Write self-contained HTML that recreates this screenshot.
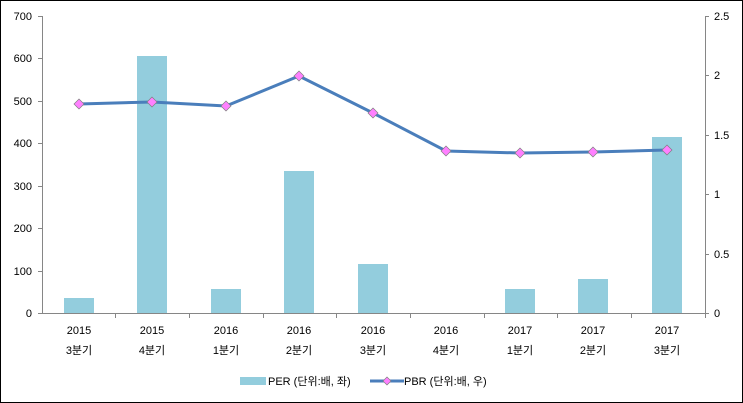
<!DOCTYPE html>
<html><head><meta charset="utf-8"><style>
html,body{margin:0;padding:0;background:#fff}
svg{display:block}
text{font-family:"Liberation Sans","Noto Sans CJK KR",sans-serif;font-size:11px;fill:#000}
</style></head><body>
<svg width="743" height="403" viewBox="0 0 743 403">
<rect x="0.5" y="0.5" width="742" height="402" fill="#fff" stroke="#000"/>
<g stroke="#868686" stroke-width="1">
<line x1="42.5" y1="16" x2="42.5" y2="313"/>
<line x1="705.5" y1="16" x2="705.5" y2="313"/>
<line x1="42" y1="313.5" x2="705" y2="313.5"/>
<line x1="38" y1="16.5" x2="42" y2="16.5"/><line x1="38" y1="58.5" x2="42" y2="58.5"/><line x1="38" y1="101.5" x2="42" y2="101.5"/><line x1="38" y1="143.5" x2="42" y2="143.5"/><line x1="38" y1="186.5" x2="42" y2="186.5"/><line x1="38" y1="228.5" x2="42" y2="228.5"/><line x1="38" y1="271.5" x2="42" y2="271.5"/><line x1="38" y1="313.5" x2="42" y2="313.5"/>
<line x1="705" y1="16.5" x2="709" y2="16.5"/><line x1="705" y1="75.5" x2="709" y2="75.5"/><line x1="705" y1="135.5" x2="709" y2="135.5"/><line x1="705" y1="194.5" x2="709" y2="194.5"/><line x1="705" y1="254.5" x2="709" y2="254.5"/><line x1="705" y1="313.5" x2="709" y2="313.5"/>
<line x1="115.5" y1="313" x2="115.5" y2="318"/><line x1="189.5" y1="313" x2="189.5" y2="318"/><line x1="263.5" y1="313" x2="263.5" y2="318"/><line x1="336.5" y1="313" x2="336.5" y2="318"/><line x1="410.5" y1="313" x2="410.5" y2="318"/><line x1="484.5" y1="313" x2="484.5" y2="318"/><line x1="557.5" y1="313" x2="557.5" y2="318"/><line x1="631.5" y1="313" x2="631.5" y2="318"/><line x1="705.5" y1="313" x2="705.5" y2="318"/>
</g>
<g text-anchor="end">
<text x="32" y="20">700</text><text x="32" y="62">600</text><text x="32" y="105">500</text><text x="32" y="147">400</text><text x="32" y="190">300</text><text x="32" y="232">200</text><text x="32" y="275">100</text><text x="32" y="317">0</text>
</g>
<g text-anchor="start">
<text x="714" y="20">2.5</text><text x="714" y="79">2</text><text x="714" y="139">1.5</text><text x="714" y="198">1</text><text x="714" y="258">0.5</text><text x="714" y="317">0</text>
</g>
<g fill="#93cddd">
<rect x="64" y="298" width="30" height="15"/>
<rect x="137" y="56" width="30" height="257"/>
<rect x="211" y="289" width="30" height="24"/>
<rect x="284" y="171" width="30" height="142"/>
<rect x="358" y="264" width="30" height="49"/>
<rect x="505" y="289" width="30" height="24"/>
<rect x="578" y="279" width="30" height="34"/>
<rect x="652" y="137" width="30" height="176"/>
</g>
<polyline points="79,104 152,102 226,106 299,76 373,113 446,151 520,153 593,152 667,150" fill="none" stroke="#4a7ebb" stroke-width="3"/>
<g fill="#ff80ff" stroke="#7f7f7f" stroke-width="0.7">
<path d="M79,99 l5,5 -5,5 -5,-5z"/><path d="M152,97 l5,5 -5,5 -5,-5z"/><path d="M226,101 l5,5 -5,5 -5,-5z"/><path d="M299,71 l5,5 -5,5 -5,-5z"/><path d="M373,108 l5,5 -5,5 -5,-5z"/><path d="M446,146 l5,5 -5,5 -5,-5z"/><path d="M520,148 l5,5 -5,5 -5,-5z"/><path d="M593,147 l5,5 -5,5 -5,-5z"/><path d="M667,145 l5,5 -5,5 -5,-5z"/>
</g>
<g text-anchor="middle">
<text x="79" y="334">2015</text><text x="152" y="334">2015</text><text x="226" y="334">2016</text><text x="299" y="334">2016</text><text x="373" y="334">2016</text><text x="446" y="334">2016</text><text x="520" y="334">2017</text><text x="593" y="334">2017</text><text x="667" y="334">2017</text>
<text x="79" y="354">3분기</text><text x="152" y="354">4분기</text><text x="226" y="354">1분기</text><text x="299" y="354">2분기</text><text x="373" y="354">3분기</text><text x="446" y="354">4분기</text><text x="520" y="354">1분기</text><text x="593" y="354">2분기</text><text x="667" y="354">3분기</text>
</g>
<rect x="240" y="377" width="26" height="8" fill="#93cddd"/>
<text x="268" y="385">PER (단위:배, 좌)</text>
<line x1="370" y1="381" x2="404" y2="381" stroke="#4a7ebb" stroke-width="3"/>
<path d="M387,377 l4,4 -4,4 -4,-4z" fill="#ff80ff" stroke="#7f7f7f" stroke-width="0.7"/>
<text x="404" y="385">PBR (단위:배, 우)</text>
</svg>
</body></html>
